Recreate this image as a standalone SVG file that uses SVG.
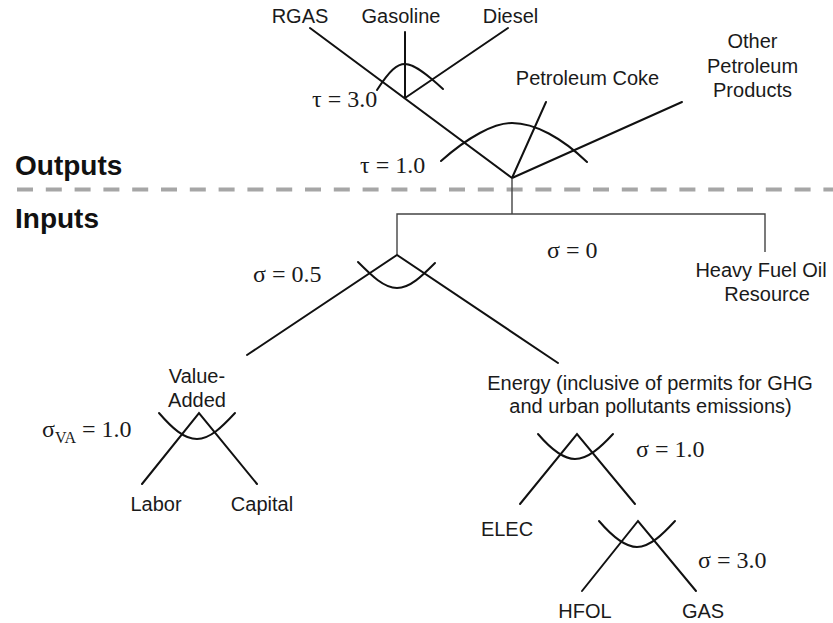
<svg xmlns="http://www.w3.org/2000/svg" width="833" height="623" viewBox="0 0 833 623">
<style>
.s{font-family:"Liberation Sans",Arial,sans-serif;font-size:20px;fill:#1a1a1a}
.m{text-anchor:middle}
.b{font-family:"Liberation Sans",Arial,sans-serif;font-size:28px;font-weight:bold;fill:#111}
.g{font-family:"Liberation Serif","Times New Roman",serif;font-size:24px;fill:#1a1a1a}
.sub{font-size:16px}
.ln{stroke:#111;stroke-width:2;fill:none;stroke-linecap:round}
.br{stroke:#444;stroke-width:1.4;fill:none}
.ds{stroke:#a6a6a6;stroke-width:4;stroke-dasharray:16 12.8;fill:none}
</style>
<rect width="833" height="623" fill="#fff"/>
<g id="divider"><line class="ds" x1="17" y1="189.5" x2="833" y2="189.5"/></g>
<g id="labels-sections">
<text class="b" x="15" y="175">Outputs</text>
<text class="b" x="15" y="228">Inputs</text>
</g>
<g id="connectors">
<line class="ln" x1="310" y1="28" x2="512" y2="178"/>
<line class="ln" x1="405" y1="32" x2="405" y2="98"/>
<line class="ln" x1="508" y1="28" x2="405" y2="98"/>
<line class="ln" x1="546" y1="102" x2="512" y2="178"/>
<line class="ln" x1="682" y1="102" x2="512" y2="178"/>
<polyline class="br" points="512,178 512,214"/>
<polyline class="br" points="397,254 397,214 765,214 765,252"/>
<polyline class="ln" points="247,355 397,255 558,363"/>
<polyline class="ln" points="142,484 199,413 257,484"/>
<polyline class="ln" points="520,504 577,434 635,504"/>
<polyline class="ln" points="582,591 638,521 696,591"/>
</g>
<g id="node-top">
<path class="ln" d="M377,90 C390,70 397,64 405,64 C415,64 430,77 443,89"/>
<text class="s m" x="300" y="23">RGAS</text>
<text class="s m" x="401" y="23">Gasoline</text>
<text class="s m" x="510.5" y="23">Diesel</text>
<text class="g" x="312" y="107">τ = 3.0</text>
</g>
<g id="node-outputs">
<path class="ln" d="M441,161 C468,137 494,123 512,123 C535,123 562,138 587,162"/>
<text class="s m" x="587.5" y="85">Petroleum Coke</text>
<text class="s m" x="752.5" y="48">Other</text>
<text class="s m" x="752.5" y="72.5">Petroleum</text>
<text class="s m" x="752.5" y="96.5">Products</text>
<text class="g" x="360" y="173">τ = 1.0</text>
</g>
<g id="node-leontief">
<text class="g" x="547" y="258">σ = 0</text>
<text class="s m" x="761" y="277">Heavy Fuel Oil</text>
<text class="s m" x="767" y="301">Resource</text>
</g>
<g id="node-kle">
<path class="ln" d="M358,262 C372,276 384,288 397,288 C410,288 422,276 435,263"/>
<text class="g" x="253" y="282">σ = 0.5</text>
</g>
<g id="node-va">
<path class="ln" d="M159,413 C172,428 184,439 197,439 C210,439 222,427 235,413"/>
<text class="s m" x="197" y="383">Value-</text>
<text class="s m" x="197" y="407">Added</text>
<text class="g" x="42" y="437">σ<tspan class="sub" dy="6">VA</tspan><tspan dy="-6"> = 1.0</tspan></text>
<text class="s m" x="156" y="511">Labor</text>
<text class="s m" x="262" y="511">Capital</text>
</g>
<g id="node-energy">
<path class="ln" d="M538,434 C550,448 563,459 575,459 C588,459 601,447 613,434"/>
<text class="s m" x="650" y="390">Energy (inclusive of permits for GHG</text>
<text class="s m" x="650.5" y="413">and urban pollutants emissions)</text>
<text class="g" x="636" y="457">σ = 1.0</text>
<text class="s m" x="507" y="536">ELEC</text>
</g>
<g id="node-fuel">
<path class="ln" d="M599,521 C611,535 624,547 637,547 C650,547 663,534 675,521"/>
<text class="g" x="698" y="568">σ = 3.0</text>
<text class="s m" x="585" y="618">HFOL</text>
<text class="s m" x="703" y="618">GAS</text>
</g>
</svg>
